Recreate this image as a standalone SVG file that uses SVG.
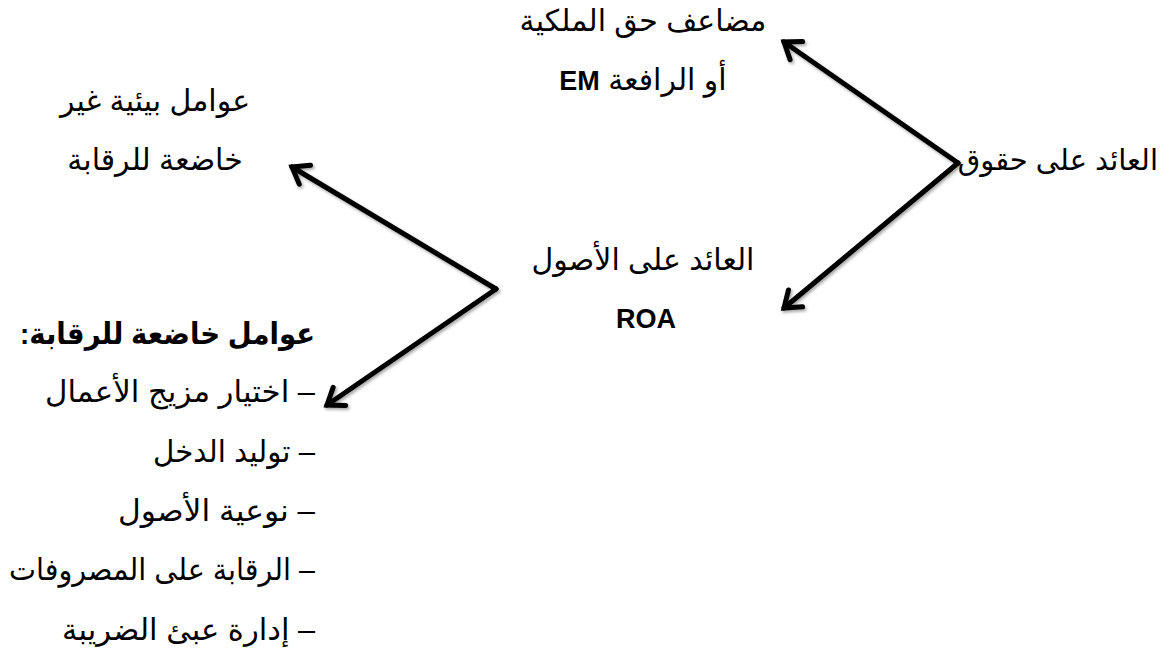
<svg xmlns="http://www.w3.org/2000/svg" width="1166" height="663" viewBox="0 0 1166 663">
<style>
.t{font-family:"Liberation Sans","DejaVu Sans",Arial,sans-serif;font-size:30px;fill:#000}
.b{font-weight:bold}
.l{font-size:27px}
.c{stroke:#000;stroke-width:5;fill:none;stroke-linecap:round}
</style>
<defs>
<filter id="sh" x="-10%" y="-10%" width="120%" height="120%">
<feDropShadow dx="1.5" dy="2" stdDeviation="1.5" flood-color="#000" flood-opacity="0.35"/>
</filter>
<marker id="ah" markerUnits="userSpaceOnUse" markerWidth="40" markerHeight="40" refX="0" refY="0" viewBox="-20 -20 40 40" orient="auto" overflow="visible">
<path d="M-15,-11 L0,0 L-15,11" fill="none" stroke="#000" stroke-width="5" stroke-linecap="round" stroke-linejoin="miter"/>
</marker>
</defs>
<rect width="1166" height="663" fill="#fff"/>
<g id="connectors" filter="url(#sh)">
<line class="c" x1="958" y1="163" x2="784" y2="42" marker-end="url(#ah)"/>
<line class="c" x1="958" y1="163" x2="784" y2="308" marker-end="url(#ah)"/>
<line class="c" x1="496" y1="289" x2="292" y2="167" marker-end="url(#ah)"/>
<line class="c" x1="496" y1="289" x2="327" y2="405" marker-end="url(#ah)"/>
</g>
<g id="roe">
<text class="t" x="1158" y="170" direction="rtl" text-anchor="start" style="font-size:29px">العائد على حقوق</text>
</g>
<g id="em">
<text class="t" x="643" y="31" direction="rtl" text-anchor="middle">مضاعف حق الملكية</text>
<text class="t" x="643" y="90" direction="rtl" text-anchor="middle">أو الرافعة <tspan class="b l">EM</tspan></text>
</g>
<g id="roa">
<text class="t" x="643" y="270" direction="rtl" text-anchor="middle">العائد على الأصول</text>
<text class="t b l" x="646" y="328" text-anchor="middle">ROA</text>
</g>
<g id="uncontrolled">
<text class="t" x="155" y="111" direction="rtl" text-anchor="middle">عوامل بيئية غير</text>
<text class="t" x="155" y="170" direction="rtl" text-anchor="middle">خاضعة للرقابة</text>
</g>
<g id="controlled">
<text class="t b" x="315" y="344" direction="rtl" text-anchor="start" textLength="295" lengthAdjust="spacingAndGlyphs">عوامل خاضعة للرقابة:</text>
<text class="t" x="315" y="402" direction="rtl" text-anchor="start" textLength="270" lengthAdjust="spacingAndGlyphs">– اختيار مزيج الأعمال</text>
<text class="t" x="315" y="462" direction="rtl" text-anchor="start" textLength="162" lengthAdjust="spacingAndGlyphs">– توليد الدخل</text>
<text class="t" x="315" y="521" direction="rtl" text-anchor="start" textLength="197" lengthAdjust="spacingAndGlyphs">– نوعية الأصول</text>
<text class="t" x="315" y="580" direction="rtl" text-anchor="start" textLength="306" lengthAdjust="spacingAndGlyphs">– الرقابة على المصروفات</text>
<text class="t" x="315" y="640" direction="rtl" text-anchor="start" textLength="253" lengthAdjust="spacingAndGlyphs">– إدارة عبئ الضريبة</text>
</g>
</svg>
